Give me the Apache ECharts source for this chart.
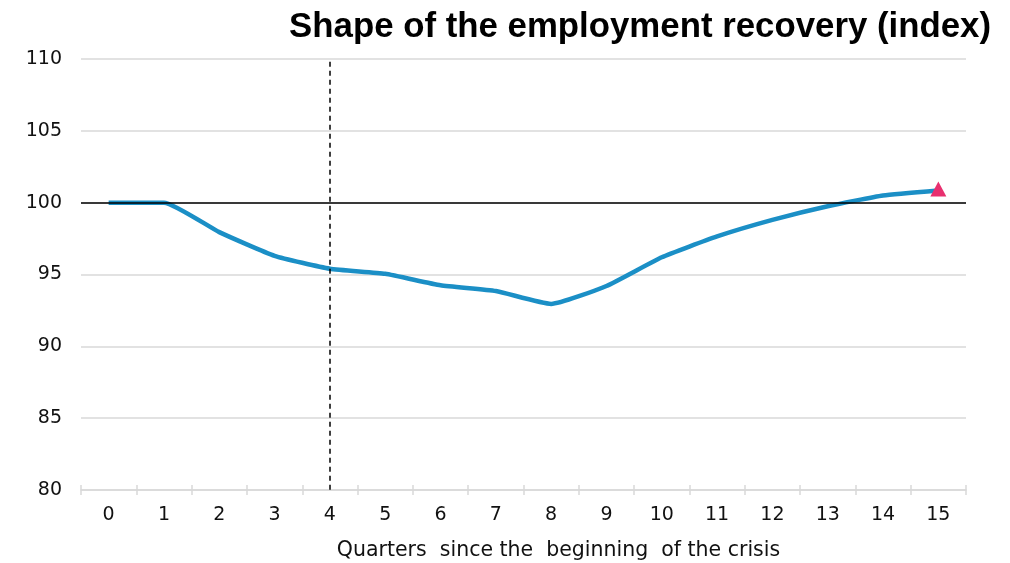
<!DOCTYPE html>
<html>
<head>
<meta charset="utf-8">
<script src="https://cdn.jsdelivr.net/npm/echarts@6/dist/echarts.min.js"></script>
<style>html,body{margin:0;padding:0;background:#fff;}#c{width:1010px;height:563px;}</style>
</head>
<body>
<div id="c"></div>
<script>
var categories = ['0','1','2','3','4','5','6','7','8','9','10','11','12','13','14','15'];
var employment = [100, 100, 97.95, 96.3, 95.4, 95.05, 94.25, 93.85, 92.95, 94.2, 96.2, 97.65, 98.8, 99.75, 100.5, 100.85];
var markerPoint = [['15', 100.95]];
var yTicks = {min: 80, max: 110, interval: 5};
var crisisMarker = '4';
var baseline = 100;

var chart = echarts.init(document.getElementById('c'));
var titleFont = 'Liberation Sans, Arial, sans-serif';
var font = 'DejaVu Sans, sans-serif';
chart.setOption({
  animation: false,
  title: {
    text: 'Shape of the employment recovery (index)',
    right: 14, top: 5,
    textStyle: {fontFamily: titleFont, fontWeight: 'bold', fontSize: 34.8, color: '#000'}
  },
  grid: {left: 81, right: 44, top: 59, bottom: 73, outerBoundsMode: 'none', containLabel: false},
  xAxis: [{
    type: 'category', data: categories, boundaryGap: true, position: 'bottom',
    axisLine: {lineStyle: {color: '#d9d9d9', width: 1.5}},
    axisTick: {show: true, length: 5, lineStyle: {color: '#d9d9d9', width: 1.5}},
    axisLabel: {color: '#111', fontFamily: font, fontSize: 19, margin: 16},
    name: 'Quarters  since the  beginning  of the crisis',
    nameLocation: 'middle', nameGap: 50,
    nameTextStyle: {color: '#111', fontFamily: font, fontSize: 20.5, padding: [0, 0, 0, 70]}
  }, {
    type: 'category', data: categories, boundaryGap: true, position: 'bottom', offset: 0,
    axisLine: {show: false},
    axisTick: {show: true, inside: true, length: 5, lineStyle: {color: '#d9d9d9', width: 1.5}},
    axisLabel: {show: false}
  }],
  yAxis: {
    type: 'value', min: yTicks.min, max: yTicks.max, interval: yTicks.interval,
    axisLine: {show: false}, axisTick: {show: false},
    axisLabel: {color: '#111', fontFamily: font, fontSize: 19, margin: 19},
    splitLine: {lineStyle: {color: '#d9d9d9', width: 1.5}}
  },
  series: [
    {
      type: 'line', data: employment, smooth: 0.15, symbol: 'none',
      lineStyle: {color: '#1b8fc6', width: 4.5},
      z: 3,
      markLine: {
        silent: true, symbol: 'none', label: {show: false},
        data: [
          {yAxis: baseline, lineStyle: {color: '#000', width: 1.5, type: 'solid'}},
          [{coord: [crisisMarker, 109.8]}, {coord: [crisisMarker, 80]}]
        ],
        lineStyle: {color: '#000', width: 1.5, type: [5, 4]}
      }
    },
    {
      type: 'scatter', data: markerPoint, symbol: 'triangle', symbolSize: [16, 15],
      itemStyle: {color: '#e8306f', opacity: 1}, z: 5
    }
  ]
});
</script>
</body>
</html>
